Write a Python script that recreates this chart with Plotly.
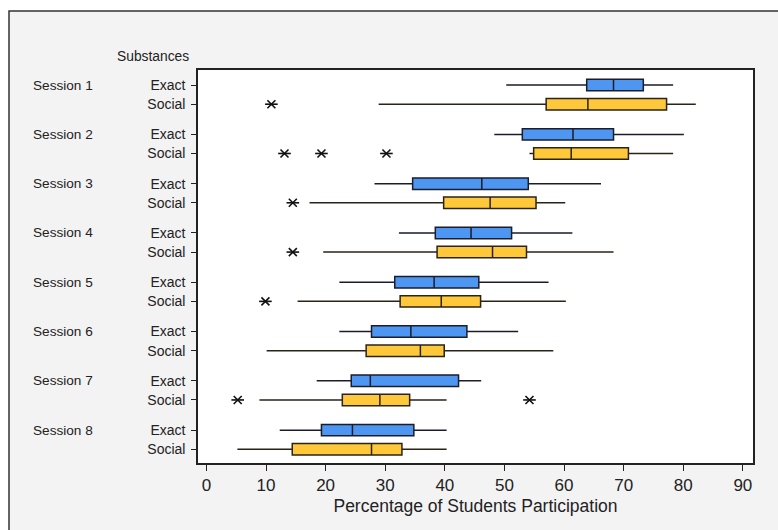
import plotly.graph_objects as go

# Participation (%) per session and substance type: five-number summaries
sessions = ["Session 1", "Session 2", "Session 3", "Session 4",
            "Session 5", "Session 6", "Session 7", "Session 8"]
substances = ["Exact", "Social"]

exact_low = [50.3, 48.3, 28.2, 32.3, 22.3, 22.3, 18.5, 12.3]
exact_q1 = [63.8, 53.0, 34.6, 38.4, 31.6, 27.7, 24.3, 19.3]
exact_med = [68.3, 61.5, 46.2, 44.4, 38.2, 34.3, 27.5, 24.5]
exact_q3 = [73.3, 68.3, 54.0, 51.2, 45.7, 43.7, 42.3, 34.8]
exact_high = [78.3, 80.1, 66.2, 61.4, 57.4, 52.3, 46.1, 40.3]

social_low = [28.9, 54.2, 17.3, 19.6, 15.3, 10.1, 8.9, 5.2]
social_q1 = [57.0, 54.9, 39.8, 38.7, 32.5, 26.8, 22.8, 14.4]
social_med = [64.0, 61.2, 47.6, 48.0, 39.4, 35.9, 29.1, 27.7]
social_q3 = [77.2, 70.8, 55.3, 53.7, 46.0, 39.9, 34.1, 32.8]
social_high = [82.1, 78.3, 60.2, 68.3, 60.3, 58.2, 40.3, 40.3]

# Outliers (session index, value), all in the Social groups
outlier_session = [0, 1, 1, 1, 2, 3, 4, 6, 6]
outlier_value = [10.9, 13.1, 19.3, 30.2, 14.5, 14.5, 9.9, 5.25, 54.2]

x_ticks = [0, 10, 20, 30, 40, 50, 60, 70, 80, 90]

STEP = 2.58  # vertical distance between session groups
exact_pos = [i * STEP for i in range(len(sessions))]
social_pos = [p + 1 for p in exact_pos]

BLUE = "#4d97f2"
YELLOW = "#ffc83a"
FONT = "Liberation Sans"
INK = "#222222"

fig = go.Figure()

fig.add_trace(go.Box(
    orientation="h", y=exact_pos,
    q1=exact_q1, median=exact_med, q3=exact_q3,
    lowerfence=exact_low, upperfence=exact_high,
    width=0.6, fillcolor=BLUE, line=dict(color="#1c1c2a", width=1.5),
    whiskerwidth=0, boxpoints=False, hoverinfo="skip", showlegend=False,
))
fig.add_trace(go.Box(
    orientation="h", y=social_pos,
    q1=social_q1, median=social_med, q3=social_q3,
    lowerfence=social_low, upperfence=social_high,
    width=0.6, fillcolor=YELLOW, line=dict(color="#2a2418", width=1.5),
    whiskerwidth=0, boxpoints=False, hoverinfo="skip", showlegend=False,
))

# Asterisk outlier marks: an X plus a horizontal bar
out_y = [social_pos[s] for s in outlier_session]
for sym, size in [("x-thin-open", 8), ("line-ew-open", 9)]:
    fig.add_trace(go.Scatter(
        x=outlier_value, y=out_y, mode="markers",
        marker=dict(symbol=sym, size=size, color="#111111",
                    line=dict(color="#111111", width=1.6)),
        hoverinfo="skip", showlegend=False,
    ))

tick_pos = []
tick_text = []
for e, s in zip(exact_pos, social_pos):
    tick_pos += [e, s]
    tick_text += substances

L, R, T, B = 198, 25, 70, 67
W, H = 778, 530
pw, ph = W - L - R, H - T - B


def px_x(px):
    return (px - L) / pw


def px_y(py):
    return (H - B - py) / ph


annotations = []
for name, e in zip(sessions, exact_pos):
    annotations.append(dict(
        x=px_x(31), xref="paper", y=e, yref="y", text=name, showarrow=False,
        xanchor="left", yanchor="middle", font=dict(family=FONT, size=13.6, color=INK),
    ))
annotations.append(dict(
    x=px_x(115), xref="paper", y=px_y(57), yref="paper", text="Substances",
    showarrow=False, xanchor="left", yanchor="middle",
    font=dict(family=FONT, size=13.8, color=INK),
))

shapes = [
    # grey panel framing the chart
    dict(type="rect", xref="paper", yref="paper", layer="below",
         x0=px_x(9), x1=px_x(820), y0=px_y(560), y1=px_y(11),
         fillcolor="#f3f3f3", line=dict(color="#333333", width=1.5)),
    # white plotting area
    dict(type="rect", xref="paper", yref="paper", layer="below",
         x0=0, x1=1, y0=0, y1=1, fillcolor="white", line=dict(width=0)),
]

fig.update_layout(
    width=W, height=H,
    margin=dict(l=L, r=R, t=T, b=B, pad=0),
    paper_bgcolor="white", plot_bgcolor="white",
    font=dict(family=FONT, color=INK),
    annotations=annotations, shapes=shapes,
    xaxis=dict(
        range=[-1.41, 91.7], tickvals=x_ticks, ticktext=[str(v) for v in x_ticks],
        ticks="outside", ticklen=6, tickwidth=1.2, tickcolor=INK,
        showline=True, mirror=True, linecolor=INK, linewidth=1.5,
        showgrid=False, zeroline=False,
        tickfont=dict(family=FONT, size=17, color=INK),
        title=dict(text="Percentage of Students Participation",
                   font=dict(family=FONT, size=17.5, color=INK), standoff=6),
    ),
    yaxis=dict(
        range=[19.78, -0.79], tickvals=tick_pos, ticktext=tick_text,
        ticks="outside", ticklen=5, tickwidth=1.2, tickcolor=INK,
        ticklabelstandoff=3,
        showline=True, mirror=True, linecolor=INK, linewidth=1.5,
        showgrid=False, zeroline=False,
        tickfont=dict(family=FONT, size=14, color=INK),
    ),
)

fig.write_html("out.html", config={"displayModeBar": False})
